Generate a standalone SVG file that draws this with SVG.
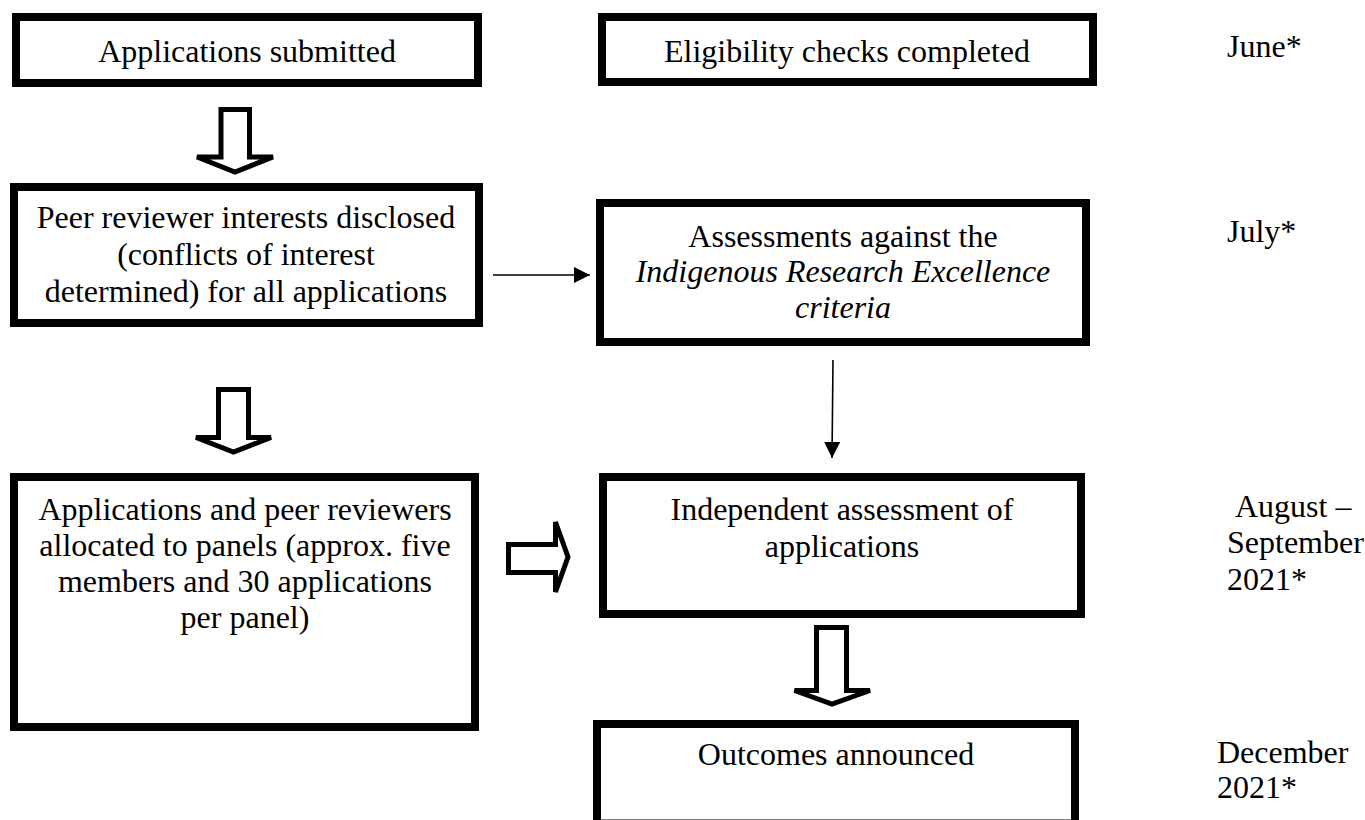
<svg xmlns="http://www.w3.org/2000/svg" width="1365" height="820" viewBox="0 0 1365 820">
<defs>
<style>
.box{fill:#fff;stroke:#000;stroke-width:8}
.t{font-family:"Liberation Serif","Times New Roman",serif;font-size:32px;fill:#000}
.c{text-anchor:middle}
.i{font-style:italic}
.hollow{fill:#fff;stroke:#000;stroke-width:5;stroke-linejoin:miter}
.thin{fill:none;stroke:#000;stroke-width:1.6}
</style>
<marker id="ah" markerWidth="16" markerHeight="16" viewBox="0 0 16 16" refX="16" refY="8" orient="auto" markerUnits="userSpaceOnUse">
<path d="M0 0 L16 8 L0 16 Z" fill="#000"/>
</marker>
</defs>
<rect width="1365" height="820" fill="#fff"/>
<g id="n1"><rect class="box" x="16" y="17" width="462" height="66"/><text class="t c" x="247" y="62">Applications submitted</text></g>
<g id="n2"><rect class="box" x="602" y="17" width="491" height="65"/><text class="t c" x="847" y="62">Eligibility checks completed</text></g>
<g id="n3"><rect class="box" x="14" y="187" width="465" height="136"/>
<text class="t c" x="246" y="228">Peer reviewer interests disclosed</text>
<text class="t c" x="246" y="265">(conflicts of interest</text>
<text class="t c" x="246" y="302">determined) for all applications</text></g>
<g id="n4"><rect class="box" x="600" y="203" width="486" height="139"/>
<text class="t c" x="843" y="247">Assessments against the</text>
<text class="t c i" x="843" y="282">Indigenous Research Excellence</text>
<text class="t c i" x="843" y="318">criteria</text></g>
<g id="n5"><rect class="box" x="14" y="477" width="461" height="250"/>
<text class="t c" x="245" y="520">Applications and peer reviewers</text>
<text class="t c" x="245" y="556">allocated to panels (approx. five</text>
<text class="t c" x="245" y="592">members and 30 applications</text>
<text class="t c" x="245" y="628">per panel)</text></g>
<g id="n6"><rect class="box" x="603" y="477" width="478" height="137"/>
<text class="t c" x="842" y="520">Independent assessment of</text>
<text class="t c" x="842" y="557">applications</text></g>
<g id="n7"><rect class="box" x="597" y="724" width="478" height="99.5"/>
<text class="t c" x="836" y="765">Outcomes announced</text></g>
<g id="dates">
<text class="t" x="1227" y="57">June*</text>
<text class="t" x="1227" y="242">July*</text>
<text class="t" x="1235" y="517">August –</text>
<text class="t" x="1227" y="553">September</text>
<text class="t" x="1227" y="590">2021*</text>
<text class="t" x="1217" y="763">December</text>
<text class="t" x="1217" y="798">2021*</text>
</g>
<g id="connectors">
<path class="hollow" d="M221 109.5 H249.5 V157 H273 L235 172 L197 157 H221 Z"/>
<path class="hollow" d="M218.5 389.5 H248.5 V437.5 H271 L233.5 452 L196 437.5 H218.5 Z"/>
<path class="hollow" d="M816.5 627.5 H846.5 V690.5 H870 L832 704 L794.5 690.5 H816.5 Z"/>
<path class="hollow" d="M508.5 544.5 H555.5 V522 L568 557 L555.5 592 V572.5 H508.5 Z"/>
<line class="thin" x1="493" y1="275" x2="590" y2="275" marker-end="url(#ah)"/>
<line class="thin" x1="833" y1="360" x2="832" y2="458" marker-end="url(#ah)"/>
</g>
</svg>
